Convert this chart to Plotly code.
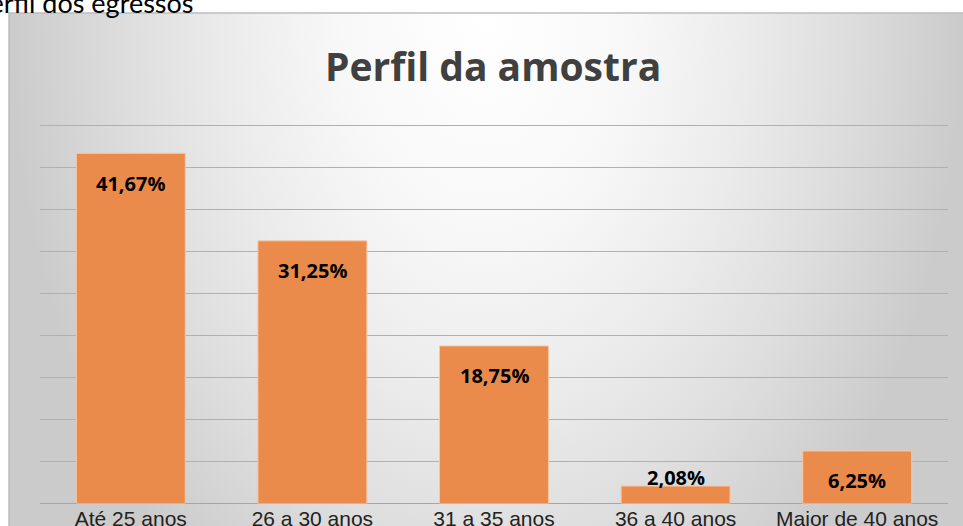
import plotly.graph_objects as go

# ---- data ----
categories = ["Até 25 anos", "26 a 30 anos", "31 a 35 anos", "36 a 40 anos", "Maior de 40 anos"]
values = [41.67, 31.25, 18.75, 2.08, 6.25]
value_labels = ["41,67%", "31,25%", "18,75%", "2,08%", "6,25%"]
chart_title = "Perfil da amostra"
doc_caption = "Perfil dos egressos"

W, H = 963, 526

def px_x(p):
    return p / W

def px_y(p):
    return (H - p) / H

plot_left, plot_right = 40, 948
grid_top, plot_bottom = 125.3, 503.5   # pixel rows of the 45% gridline and the baseline
box_left, box_top = 9, 13
y_grid_max = 45
px_per_unit = (plot_bottom - grid_top) / y_grid_max
y_range_top = 45.4
plot_top = plot_bottom - y_range_top * px_per_unit

fig = go.Figure()

# background radial gradient (on its own axes, drawn first)
fig.add_trace(go.Scatter(
    x=[0, 1, 1, 0, 0], y=[-0.39, -0.39, 2.39, 2.39, -0.39],
    xaxis="x", yaxis="y", mode="none", fill="toself",
    fillgradient=dict(type="radial",
                      colorscale=[[0, "#ffffff"], [0.3, "#f8f8f8"], [0.55, "#ebebeb"],
                                  [0.75, "#dedede"], [1, "#cbcbcb"]]),
    hoverinfo="skip", showlegend=False,
))

fig.add_trace(go.Bar(
    x=categories, y=values, xaxis="x2", yaxis="y2",
    marker=dict(color="#EB8B4B", line=dict(color="#F6C8A6", width=1)),
    hoverinfo="skip", showlegend=False,
))

annotations = []
for c, v, t in zip(categories, values, value_labels):
    inside = v * px_per_unit > 40
    annotations.append(dict(
        x=c, y=v, xref="x2", yref="y2", text=f"<b>{t}</b>", showarrow=False,
        xanchor="center", yanchor="middle", yshift=-30 if inside else 9,
        font=dict(family="Open Sans", size=20, color="#000000"),
    ))

annotations.append(dict(
    x=px_x(493), y=px_y(65), xref="paper", yref="paper", text=f"<b>{chart_title}</b>",
    showarrow=False, xanchor="center", yanchor="middle",
    font=dict(family="Open Sans", size=39, color="#404040"),
))
annotations.append(dict(
    x=px_x(196), y=px_y(3), xref="paper", yref="paper", text=doc_caption,
    showarrow=False, xanchor="right", yanchor="middle",
    font=dict(family="Lato", size=27, color="#000000"),
))

fig.update_layout(
    width=W, height=H,
    margin=dict(l=0, r=0, t=0, b=0, pad=0),
    paper_bgcolor="#ffffff", plot_bgcolor="rgba(0,0,0,0)",
    template="none",
    bargap=0.4,
    xaxis=dict(domain=[px_x(box_left), 1], range=[0, 1], visible=False, fixedrange=True),
    yaxis=dict(domain=[0, px_y(box_top)], range=[0, 1], visible=False, fixedrange=True),
    xaxis2=dict(domain=[px_x(plot_left), px_x(plot_right)], anchor="y2", showgrid=False,
                showline=False, ticks="", automargin=False,
                tickfont=dict(family="Liberation Sans", size=21, color="#222222")),
    yaxis2=dict(domain=[px_y(plot_bottom), px_y(plot_top)], anchor="x2", range=[0, y_range_top],
                dtick=5, tick0=0, showgrid=True, gridcolor="#b0b0b0", gridwidth=1,
                zeroline=True, zerolinecolor="#a6a6a6", zerolinewidth=1,
                showticklabels=False, ticks="", showline=False, automargin=False),
    annotations=annotations,
    shapes=[dict(type="rect", xref="paper", yref="paper",
                 x0=px_x(box_left), x1=1.02, y0=-0.02, y1=px_y(box_top),
                 line=dict(color="#bdbdbd", width=1.5), layer="above")],
)

fig.write_html("out.html", config={"displayModeBar": False},
               post_script="document.body.style.margin='0';document.body.style.overflow='hidden';")
